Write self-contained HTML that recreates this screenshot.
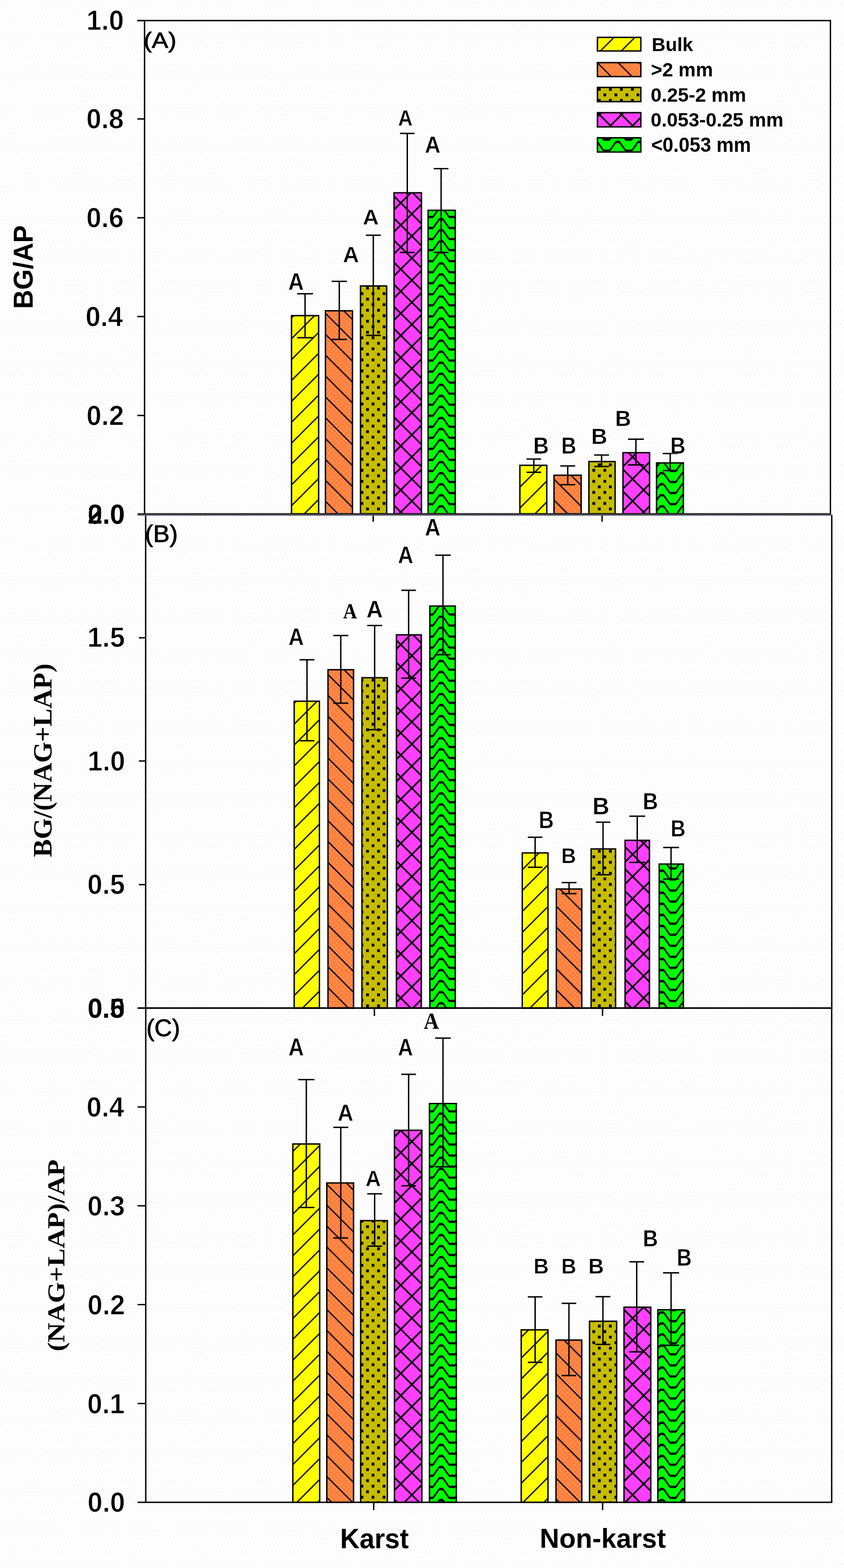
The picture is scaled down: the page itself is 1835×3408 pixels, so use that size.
<!DOCTYPE html><html><head><meta charset="utf-8"><title>Figure</title><style>html,body{margin:0;padding:0;background:#fff;}svg{display:block}</style></head><body>
<svg width="1835" height="3408" viewBox="0 0 1835 3408">
<defs>
<pattern id="YA0" patternUnits="userSpaceOnUse" width="45.37" height="45.37"><rect width="45.37" height="45.37" fill="#ffff00"/><path d="M8.9,-45.37L-127.21,90.74M54.27,-45.37L-81.84,90.74M99.64,-45.37L-36.47,90.74M145.01,-45.37L8.9,90.74" stroke="#000" stroke-width="2.7" fill="none"/></pattern><pattern id="YA1" patternUnits="userSpaceOnUse" width="45.37" height="45.37"><rect width="45.37" height="45.37" fill="#ffff00"/><path d="M11.3,-45.37L-124.81,90.74M56.67,-45.37L-79.44,90.74M102.04,-45.37L-34.07,90.74M147.41,-45.37L11.3,90.74" stroke="#000" stroke-width="2.7" fill="none"/></pattern><pattern id="YB0" patternUnits="userSpaceOnUse" width="45.37" height="45.37"><rect width="45.37" height="45.37" fill="#ffff00"/><path d="M35.75,-45.37L-100.36,90.74M81.12,-45.37L-54.99,90.74M126.49,-45.37L-9.62,90.74M171.86,-45.37L35.75,90.74" stroke="#000" stroke-width="2.7" fill="none"/></pattern><pattern id="YB1" patternUnits="userSpaceOnUse" width="45.37" height="45.37"><rect width="45.37" height="45.37" fill="#ffff00"/><path d="M31.3,-45.37L-104.81,90.74M76.67,-45.37L-59.44,90.74M122.04,-45.37L-14.07,90.74M167.41,-45.37L31.3,90.74" stroke="#000" stroke-width="2.7" fill="none"/></pattern><pattern id="YC0" patternUnits="userSpaceOnUse" width="45.37" height="45.37"><rect width="45.37" height="45.37" fill="#ffff00"/><path d="M8.85,-45.37L-127.26,90.74M54.22,-45.37L-81.89,90.74M99.59,-45.37L-36.52,90.74M144.96,-45.37L8.85,90.74" stroke="#000" stroke-width="2.7" fill="none"/></pattern><pattern id="YC1" patternUnits="userSpaceOnUse" width="45.37" height="45.37"><rect width="45.37" height="45.37" fill="#ffff00"/><path d="M1.7,-45.37L-134.41,90.74M47.07,-45.37L-89.04,90.74M92.44,-45.37L-43.67,90.74M137.81,-45.37L1.7,90.74" stroke="#000" stroke-width="2.7" fill="none"/></pattern><pattern id="YL" patternUnits="userSpaceOnUse" width="45.37" height="45.37"><rect width="45.37" height="45.37" fill="#ffff00"/><path d="M9.8,-45.37L-126.31,90.74M55.17,-45.37L-80.94,90.74M100.54,-45.37L-35.57,90.74M145.91,-45.37L9.8,90.74" stroke="#000" stroke-width="2.7" fill="none"/></pattern><pattern id="OA0" patternUnits="userSpaceOnUse" width="45.37" height="45.37"><rect width="45.37" height="45.37" fill="none"/><path d="M-45.37,-26.5L90.74,109.61M-45.37,-71.87L90.74,64.24M-45.37,-117.24L90.74,18.87M-45.37,-162.61L90.74,-26.5" stroke="#000" stroke-width="2.7" fill="none"/></pattern><pattern id="OA1" patternUnits="userSpaceOnUse" width="45.37" height="45.37"><rect width="45.37" height="45.37" fill="none"/><path d="M-45.37,-26.9L90.74,109.21M-45.37,-72.27L90.74,63.84M-45.37,-117.64L90.74,18.47M-45.37,-163.01L90.74,-26.9" stroke="#000" stroke-width="2.7" fill="none"/></pattern><pattern id="OB0" patternUnits="userSpaceOnUse" width="45.37" height="45.37"><rect width="45.37" height="45.37" fill="none"/><path d="M-45.37,-18.3L90.74,117.81M-45.37,-63.67L90.74,72.44M-45.37,-109.04L90.74,27.07M-45.37,-154.41L90.74,-18.3" stroke="#000" stroke-width="2.7" fill="none"/></pattern><pattern id="OB1" patternUnits="userSpaceOnUse" width="45.37" height="45.37"><rect width="45.37" height="45.37" fill="none"/><path d="M-45.37,-11.1L90.74,125.01M-45.37,-56.47L90.74,79.64M-45.37,-101.84L90.74,34.27M-45.37,-147.21L90.74,-11.1" stroke="#000" stroke-width="2.7" fill="none"/></pattern><pattern id="OC0" patternUnits="userSpaceOnUse" width="45.37" height="45.37"><rect width="45.37" height="45.37" fill="none"/><path d="M-45.37,-42L90.74,94.11M-45.37,-87.37L90.74,48.74M-45.37,-132.74L90.74,3.37M-45.37,-178.11L90.74,-42" stroke="#000" stroke-width="2.7" fill="none"/></pattern><pattern id="OC1" patternUnits="userSpaceOnUse" width="45.37" height="45.37"><rect width="45.37" height="45.37" fill="none"/><path d="M-45.37,-37.7L90.74,98.41M-45.37,-83.07L90.74,53.04M-45.37,-128.44L90.74,7.67M-45.37,-173.81L90.74,-37.7" stroke="#000" stroke-width="2.7" fill="none"/></pattern><pattern id="OL" patternUnits="userSpaceOnUse" width="45.37" height="45.37"><rect width="45.37" height="45.37" fill="none"/><path d="M-45.37,-28.25L90.74,107.86M-45.37,-73.62L90.74,62.49M-45.37,-118.99L90.74,17.12M-45.37,-164.36L90.74,-28.25" stroke="#000" stroke-width="2.7" fill="none"/></pattern><pattern id="Obase" patternUnits="userSpaceOnUse" width="10.8" height="10.8"><rect width="10.8" height="10.8" fill="#ff7f3c"/><rect x="1.2" y="1.2" width="2.7" height="2.7" fill="#f7a46a"/><rect x="6.6" y="6.6" width="2.7" height="2.7" fill="#f7a46a"/></pattern><pattern id="L" patternUnits="userSpaceOnUse" x="7" y="2.2" width="24.0" height="24.0"><rect width="24.0" height="24.0" fill="#c6bc00"/><rect x="-3" y="-3.1" width="6.0" height="6.2" fill="#000"/><rect x="21" y="-3.1" width="6.0" height="6.2" fill="#000"/><rect x="-3" y="20.9" width="6.0" height="6.2" fill="#000"/><rect x="21" y="20.9" width="6.0" height="6.2" fill="#000"/><rect x="9" y="8.9" width="6.0" height="6.2" fill="#000"/></pattern><pattern id="M" patternUnits="userSpaceOnUse" width="48.0" height="48.0"><rect width="48.0" height="48.0" fill="#ff40ff"/><path d="M16.5,-48L-127.5,96M64.5,-48L-79.5,96M112.5,-48L-31.5,96M160.5,-48L16.5,96M-48,-46.3L96,97.7M-48,-94.3L96,49.7M-48,-142.3L96,1.7M-48,-190.3L96,-46.3" stroke="#000" stroke-width="3.6" fill="none"/></pattern><pattern id="G" patternUnits="userSpaceOnUse" x="959" y="20.5" width="48.0" height="24.0"><rect width="48.0" height="24.0" fill="#00ff00"/><path d="M-65.5,-4.8L-52,-24M-44,-24L-30.5,-4.8M-17.5,-4.8L-4,-24M4,-24L17.5,-4.8M30.5,-4.8L44,-24M52,-24L65.5,-4.8M-65.5,19.2L-52,0M-44,0L-30.5,19.2M-17.5,19.2L-4,0M4,0L17.5,19.2M30.5,19.2L44,0M52,0L65.5,19.2M-65.5,43.2L-52,24M-44,24L-30.5,43.2M-17.5,43.2L-4,24M4,24L17.5,43.2M30.5,43.2L44,24M52,24L65.5,43.2" stroke="#000" stroke-width="3.6" fill="none"/><path d="M-72,-4.8H-65M-52.5,-24H-43.5M-31,-4.8H-24M-24,-4.8H-17M-4.5,-24H4.5M17,-4.8H24M24,-4.8H31M43.5,-24H52.5M65,-4.8H72M-72,19.2H-65M-52.5,0H-43.5M-31,19.2H-24M-24,19.2H-17M-4.5,0H4.5M17,19.2H24M24,19.2H31M43.5,0H52.5M65,19.2H72M-72,43.2H-65M-52.5,24H-43.5M-31,43.2H-24M-24,43.2H-17M-4.5,24H4.5M17,43.2H24M24,43.2H31M43.5,24H52.5M65,43.2H72" stroke="#000" stroke-width="4.8" fill="none"/></pattern><pattern id="bgd" patternUnits="userSpaceOnUse" width="8" height="16.2"><rect width="8" height="16.2" fill="#fff"/><rect x="-1.3" y="-1.3" width="2.6" height="2.6" fill="#f3f3f3"/><rect x="6.7" y="-1.3" width="2.6" height="2.6" fill="#f3f3f3"/><rect x="-1.3" y="14.9" width="2.6" height="2.6" fill="#f3f3f3"/><rect x="6.7" y="14.9" width="2.6" height="2.6" fill="#f3f3f3"/><rect x="1.4" y="4.1" width="2.6" height="2.6" fill="#f3f3f3"/><rect x="4.1" y="9.5" width="2.6" height="2.6" fill="#f3f3f3"/></pattern>
<filter id="er1" x="-5%" y="-5%" width="110%" height="110%"><feMorphology operator="erode" radius="1"/></filter><filter id="er05" x="-5%" y="-5%" width="110%" height="110%"><feMorphology operator="erode" radius="0.5"/></filter>
</defs>
<rect width="1835" height="3408" fill="url(#bgd)"/>
<rect x="633.8" y="686" width="59" height="430.55" fill="url(#YA0)" stroke="#000" stroke-width="3"/><rect x="707.6" y="675.5" width="58.7" height="441.05" fill="url(#Obase)"/><rect x="707.6" y="675.5" width="58.7" height="441.05" fill="url(#OA0)" stroke="#000" stroke-width="3"/><rect x="783.8" y="621.5" width="56.9" height="495.05" fill="url(#L)" stroke="#000" stroke-width="3"/><rect x="856.7" y="419" width="59.6" height="697.55" fill="url(#M)" stroke="#000" stroke-width="3"/><rect x="930.8" y="457.1" width="59" height="659.45" fill="url(#G)" stroke="#000" stroke-width="3"/><rect x="1130.3" y="1011.3" width="58.5" height="105.25" fill="url(#YA1)" stroke="#000" stroke-width="3"/><rect x="1204.5" y="1032.9" width="59" height="83.65" fill="url(#Obase)"/><rect x="1204.5" y="1032.9" width="59" height="83.65" fill="url(#OA1)" stroke="#000" stroke-width="3"/><rect x="1280.3" y="1003.2" width="57" height="113.35" fill="url(#L)" stroke="#000" stroke-width="3"/><rect x="1354.4" y="983.9" width="57.9" height="132.65" fill="url(#M)" stroke="#000" stroke-width="3"/><rect x="1427.4" y="1006.1" width="58.4" height="110.45" fill="url(#G)" stroke="#000" stroke-width="3"/><path d="M663.25,638.5V733.9M646,638.5H680.5M646,733.9H680.5" stroke="#000" stroke-width="3" fill="none"/><path d="M737.65,611.5V737.7M721,611.5H754.3M721,737.7H754.3" stroke="#000" stroke-width="3" fill="none"/><path d="M811.65,511.3V729M795.5,511.3H827.8M795.5,729H827.8" stroke="#000" stroke-width="3" fill="none"/><path d="M885.5,290.1V548.8M869.6,290.1H901.4M869.6,548.8H901.4" stroke="#000" stroke-width="3" fill="none"/><path d="M959.05,366.5V548.8M943.2,366.5H974.9M943.2,548.8H974.9" stroke="#000" stroke-width="3" fill="none"/><path d="M1160.55,997.7V1026.5M1144.7,997.7H1176.4M1144.7,1026.5H1176.4" stroke="#000" stroke-width="3" fill="none"/><path d="M1234.35,1012.7V1053.6M1218.2,1012.7H1250.5M1218.2,1053.6H1250.5" stroke="#000" stroke-width="3" fill="none"/><path d="M1307.95,989V1014.1M1291.8,989H1324.1M1291.8,1014.1H1324.1" stroke="#000" stroke-width="3" fill="none"/><path d="M1382.6,954.4V1010.4M1365.3,954.4H1399.9M1365.3,1010.4H1399.9" stroke="#000" stroke-width="3" fill="none"/><path d="M1457.2,985.8V1022.8M1440.9,985.8H1473.5M1440.9,1022.8H1473.5" stroke="#000" stroke-width="3" fill="none"/>
<rect x="639.6" y="1524.1" width="54.9" height="667" fill="url(#YB0)" stroke="#000" stroke-width="3"/><rect x="713.1" y="1455.6" width="55.6" height="735.5" fill="url(#Obase)"/><rect x="713.1" y="1455.6" width="55.6" height="735.5" fill="url(#OB0)" stroke="#000" stroke-width="3"/><rect x="786.9" y="1473" width="55.3" height="718.1" fill="url(#L)" stroke="#000" stroke-width="3"/><rect x="861.9" y="1379.8" width="54.1" height="811.3" fill="url(#M)" stroke="#000" stroke-width="3"/><rect x="934.6" y="1317.2" width="55.2" height="873.9" fill="url(#G)" stroke="#000" stroke-width="3"/><rect x="1135.5" y="1853.8" width="55.9" height="337.3" fill="url(#YB1)" stroke="#000" stroke-width="3"/><rect x="1209.6" y="1932.2" width="55.3" height="258.9" fill="url(#Obase)"/><rect x="1209.6" y="1932.2" width="55.3" height="258.9" fill="url(#OB1)" stroke="#000" stroke-width="3"/><rect x="1285.2" y="1845.1" width="53.2" height="346" fill="url(#L)" stroke="#000" stroke-width="3"/><rect x="1359" y="1826.4" width="53" height="364.7" fill="url(#M)" stroke="#000" stroke-width="3"/><rect x="1433.2" y="1878" width="52.6" height="313.1" fill="url(#G)" stroke="#000" stroke-width="3"/><path d="M667.45,1434V1610M651.3,1434H683.6M651.3,1610H683.6" stroke="#000" stroke-width="3" fill="none"/><path d="M740.9,1381.2V1528.3M724.6,1381.2H757.2M724.6,1528.3H757.2" stroke="#000" stroke-width="3" fill="none"/><path d="M814.55,1359.6V1586M798.4,1359.6H830.7M798.4,1586H830.7" stroke="#000" stroke-width="3" fill="none"/><path d="M888.4,1283.1V1474M872.5,1283.1H904.3M872.5,1474H904.3" stroke="#000" stroke-width="3" fill="none"/><path d="M963.1,1206.7V1423M946.1,1206.7H980.1M946.1,1423H980.1" stroke="#000" stroke-width="3" fill="none"/><path d="M1163.45,1819.7V1885.1M1147.6,1819.7H1179.3M1147.6,1885.1H1179.3" stroke="#000" stroke-width="3" fill="none"/><path d="M1237.25,1918.3V1942.2M1221.1,1918.3H1253.4M1221.1,1942.2H1253.4" stroke="#000" stroke-width="3" fill="none"/><path d="M1311.1,1787.1V1901.3M1295.2,1787.1H1327M1295.2,1901.3H1327" stroke="#000" stroke-width="3" fill="none"/><path d="M1385.5,1774.1V1874.5M1368.2,1774.1H1402.8M1368.2,1874.5H1402.8" stroke="#000" stroke-width="3" fill="none"/><path d="M1459,1841.9V1910.5M1441.7,1841.9H1476.3M1441.7,1910.5H1476.3" stroke="#000" stroke-width="3" fill="none"/>
<rect x="636.7" y="2486.4" width="58.4" height="778.9" fill="url(#YC0)" stroke="#000" stroke-width="3"/><rect x="710.5" y="2571.1" width="58.2" height="694.2" fill="url(#Obase)"/><rect x="710.5" y="2571.1" width="58.2" height="694.2" fill="url(#OC0)" stroke="#000" stroke-width="3"/><rect x="784.1" y="2653" width="58.1" height="612.3" fill="url(#L)" stroke="#000" stroke-width="3"/><rect x="857.6" y="2456.7" width="59.6" height="808.6" fill="url(#M)" stroke="#000" stroke-width="3"/><rect x="933.7" y="2398.5" width="58.5" height="866.8" fill="url(#G)" stroke="#000" stroke-width="3"/><rect x="1133.2" y="2890.4" width="58.2" height="374.9" fill="url(#YC1)" stroke="#000" stroke-width="3"/><rect x="1208.8" y="2912.6" width="56.1" height="352.7" fill="url(#Obase)"/><rect x="1208.8" y="2912.6" width="56.1" height="352.7" fill="url(#OC1)" stroke="#000" stroke-width="3"/><rect x="1281.7" y="2871.7" width="59" height="393.6" fill="url(#L)" stroke="#000" stroke-width="3"/><rect x="1356.7" y="2841.1" width="58.2" height="424.2" fill="url(#M)" stroke="#000" stroke-width="3"/><rect x="1430.3" y="2846.7" width="58.4" height="418.6" fill="url(#G)" stroke="#000" stroke-width="3"/><path d="M666,2346.5V2624.4M648.4,2346.5H683.6M648.4,2624.4H683.6" stroke="#000" stroke-width="3" fill="none"/><path d="M740.9,2450.3V2690.7M724.6,2450.3H757.2M724.6,2690.7H757.2" stroke="#000" stroke-width="3" fill="none"/><path d="M814.55,2594.7V2708.6M798.4,2594.7H830.7M798.4,2708.6H830.7" stroke="#000" stroke-width="3" fill="none"/><path d="M888.4,2335V2577.3M872.5,2335H904.3M872.5,2577.3H904.3" stroke="#000" stroke-width="3" fill="none"/><path d="M963.1,2256.2V2536M946.1,2256.2H980.1M946.1,2536H980.1" stroke="#000" stroke-width="3" fill="none"/><path d="M1163.45,2818.8V2961M1147.6,2818.8H1179.3M1147.6,2961H1179.3" stroke="#000" stroke-width="3" fill="none"/><path d="M1236.95,2832.7V2989.8M1221.1,2832.7H1252.8M1221.1,2989.8H1252.8" stroke="#000" stroke-width="3" fill="none"/><path d="M1310.85,2818.2V2922.1M1294.7,2818.2H1327M1294.7,2922.1H1327" stroke="#000" stroke-width="3" fill="none"/><path d="M1384.35,2742.5V2938.2M1368.2,2742.5H1400.5M1368.2,2938.2H1400.5" stroke="#000" stroke-width="3" fill="none"/><path d="M1459.05,2766.5V2924.1M1441.6,2766.5H1476.5M1441.6,2924.1H1476.5" stroke="#000" stroke-width="3" fill="none"/>
<path d="M314.3,44.7V1116.55M1805.5,44.7V1116.55" stroke="#000" stroke-width="3" fill="none"/><path d="M298.5,44.7H1807" stroke="#000" stroke-width="3" fill="none"/><path d="M299.1,1116.55H1807" stroke="#2c2c26" stroke-width="2.7" fill="none"/><path d="M298.5,44.7H314.3M298.5,258.4H314.3M298.5,473.2H314.3M298.5,688H314.3M298.5,903H314.3M811.4,1118V1134M1309.1,1118V1134" stroke="#000" stroke-width="3" fill="none"/>
<path d="M316.7,1119.35V2191.1M1808.4,1119.35V2191.1" stroke="#000" stroke-width="3" fill="none"/><path d="M299.1,1119.35H1809.9" stroke="#54546a" stroke-width="2.9" fill="none"/><path d="M299.1,2191.1H1809.9" stroke="#000" stroke-width="3" fill="none"/><path d="M302,1386.2H316.7M302,1654.1H316.7M302,1922.8H316.7M814,2191V2208M1310,2191V2208" stroke="#000" stroke-width="3" fill="none"/>
<path d="M316.9,2191.1V3265.3M1808.2,2191.1V3265.3" stroke="#000" stroke-width="3" fill="none"/><path d="M299.1,2191.1H1809.7" stroke="#000" stroke-width="3" fill="none"/><path d="M299.1,3265.3H1809.7" stroke="#000" stroke-width="3" fill="none"/><path d="M299.1,2405.9H316.9M299.1,2620.8H316.9M299.1,2835.6H316.9M299.1,3050.5H316.9M812.5,3265V3282M1310.2,3265V3282" stroke="#000" stroke-width="3" fill="none"/>
<text transform="matrix(0.234 0 0 0.255 626.632 629.5)" font-family="'Liberation Sans', sans-serif" font-weight="bold" font-size="200" fill="#000" stroke="#fff" stroke-width="2.458" stroke-linejoin="round">A</text>
<text transform="matrix(0.243 0 0 0.245 745.587 569.7)" font-family="'Liberation Sans', sans-serif" font-weight="bold" font-size="200" fill="#000" stroke="#fff" stroke-width="2.462" stroke-linejoin="round">A</text>
<text transform="matrix(0.241 0 0 0.234 788.795 487.9)" font-family="'Liberation Sans', sans-serif" font-weight="bold" font-size="200" fill="#000" stroke="#fff" stroke-width="2.526" stroke-linejoin="round">A</text>
<text transform="matrix(0.219 0 0 0.238 865.403 272.8)" font-family="'Liberation Sans', sans-serif" font-weight="bold" font-size="200" fill="#000" stroke="#fff" stroke-width="2.623" stroke-linejoin="round">A</text>
<text transform="matrix(0.235 0 0 0.251 923.825 332.2)" font-family="'Liberation Sans', sans-serif" font-weight="bold" font-size="200" fill="#000" stroke="#fff" stroke-width="2.471" stroke-linejoin="round">A</text>
<text transform="matrix(0.234 0 0 0.251 1159.563 986.4)" font-family="'Liberation Sans', sans-serif" font-weight="bold" font-size="200" fill="#000" stroke="#fff" stroke-width="2.479" stroke-linejoin="round">B</text>
<text transform="matrix(0.227 0 0 0.251 1220.148 986.4)" font-family="'Liberation Sans', sans-serif" font-weight="bold" font-size="200" fill="#000" stroke="#fff" stroke-width="2.515" stroke-linejoin="round">B</text>
<text transform="matrix(0.241 0 0 0.238 1285.467 965.4)" font-family="'Liberation Sans', sans-serif" font-weight="bold" font-size="200" fill="#000" stroke="#fff" stroke-width="2.503" stroke-linejoin="round">B</text>
<text transform="matrix(0.241 0 0 0.244 1337.367 926.4)" font-family="'Liberation Sans', sans-serif" font-weight="bold" font-size="200" fill="#000" stroke="#fff" stroke-width="2.473" stroke-linejoin="round">B</text>
<text transform="matrix(0.23 0 0 0.251 1457.216 986.4)" font-family="'Liberation Sans', sans-serif" font-weight="bold" font-size="200" fill="#000" stroke="#fff" stroke-width="2.501" stroke-linejoin="round">B</text>
<text transform="matrix(0.231 0 0 0.255 627.347 1401.7)" font-family="'Liberation Sans', sans-serif" font-weight="bold" font-size="200" fill="#000" stroke="#fff" stroke-width="2.474" stroke-linejoin="round">A</text>
<text transform="matrix(0.209 0 0 0.231 746.083 1343.931)" font-family="'Liberation Serif', serif" font-weight="bold" font-size="200" fill="#000">A</text>
<text transform="matrix(0.246 0 0 0.255 796.872 1342)" font-family="'Liberation Sans', sans-serif" font-weight="bold" font-size="200" fill="#000" stroke="#fff" stroke-width="2.398" stroke-linejoin="round">A</text>
<text transform="matrix(0.23 0 0 0.255 865.351 1224.3)" font-family="'Liberation Sans', sans-serif" font-weight="bold" font-size="200" fill="#000" stroke="#fff" stroke-width="2.478" stroke-linejoin="round">A</text>
<text transform="matrix(0.235 0 0 0.255 923.825 1163.7)" font-family="'Liberation Sans', sans-serif" font-weight="bold" font-size="200" fill="#000" stroke="#fff" stroke-width="2.45" stroke-linejoin="round">A</text>
<text transform="matrix(0.227 0 0 0.255 1171.148 1799.8)" font-family="'Liberation Sans', sans-serif" font-weight="bold" font-size="200" fill="#000" stroke="#fff" stroke-width="2.493" stroke-linejoin="round">B</text>
<text transform="matrix(0.223 0 0 0.23 1220.202 1875.6)" font-family="'Liberation Sans', sans-serif" font-weight="bold" font-size="200" fill="#000" stroke="#fff" stroke-width="2.651" stroke-linejoin="round">B</text>
<text transform="matrix(0.253 0 0 0.259 1288.207 1770.1)" font-family="'Liberation Sans', sans-serif" font-weight="bold" font-size="200" fill="#000" stroke="#fff" stroke-width="2.341" stroke-linejoin="round">B</text>
<text transform="matrix(0.23 0 0 0.251 1397.516 1758.8)" font-family="'Liberation Sans', sans-serif" font-weight="bold" font-size="200" fill="#000" stroke="#fff" stroke-width="2.501" stroke-linejoin="round">B</text>
<text transform="matrix(0.225 0 0 0.247 1457.88 1818)" font-family="'Liberation Sans', sans-serif" font-weight="bold" font-size="200" fill="#000" stroke="#fff" stroke-width="2.547" stroke-linejoin="round">B</text>
<text transform="matrix(0.231 0 0 0.265 627.347 2294)" font-family="'Liberation Sans', sans-serif" font-weight="bold" font-size="200" fill="#000" stroke="#fff" stroke-width="2.426" stroke-linejoin="round">A</text>
<text transform="matrix(0.237 0 0 0.246 734.013 2436.2)" font-family="'Liberation Sans', sans-serif" font-weight="bold" font-size="200" fill="#000" stroke="#fff" stroke-width="2.481" stroke-linejoin="round">A</text>
<text transform="matrix(0.231 0 0 0.241 794.647 2577.5)" font-family="'Liberation Sans', sans-serif" font-weight="bold" font-size="200" fill="#000" stroke="#fff" stroke-width="2.547" stroke-linejoin="round">A</text>
<text transform="matrix(0.226 0 0 0.256 865.369 2293.5)" font-family="'Liberation Sans', sans-serif" font-weight="bold" font-size="200" fill="#000" stroke="#fff" stroke-width="2.495" stroke-linejoin="round">A</text>
<text transform="matrix(0.23 0 0 0.248 921.139 2236.248)" font-family="'Liberation Serif', serif" font-weight="bold" font-size="200" fill="#000">A</text>
<text transform="matrix(0.23 0 0 0.235 1160.116 2768.1)" font-family="'Liberation Sans', sans-serif" font-weight="bold" font-size="200" fill="#000" stroke="#fff" stroke-width="2.585" stroke-linejoin="round">B</text>
<text transform="matrix(0.227 0 0 0.235 1220.148 2768.1)" font-family="'Liberation Sans', sans-serif" font-weight="bold" font-size="200" fill="#000" stroke="#fff" stroke-width="2.599" stroke-linejoin="round">B</text>
<text transform="matrix(0.236 0 0 0.235 1278.931 2768.1)" font-family="'Liberation Sans', sans-serif" font-weight="bold" font-size="200" fill="#000" stroke="#fff" stroke-width="2.549" stroke-linejoin="round">B</text>
<text transform="matrix(0.227 0 0 0.249 1397.648 2709.3)" font-family="'Liberation Sans', sans-serif" font-weight="bold" font-size="200" fill="#000" stroke="#fff" stroke-width="2.526" stroke-linejoin="round">B</text>
<text transform="matrix(0.226 0 0 0.256 1471.259 2751.3)" font-family="'Liberation Sans', sans-serif" font-weight="bold" font-size="200" fill="#000" stroke="#fff" stroke-width="2.494" stroke-linejoin="round">B</text>
<text transform="matrix(0.293 0 0 0.305 188.015 64.74)" font-family="'Liberation Sans', sans-serif" font-weight="bold" font-size="200" fill="#000" stroke="#fff" stroke-width="3.346" stroke-linejoin="round">1.0</text><text transform="matrix(0.293 0 0 0.305 187.658 278.94)" font-family="'Liberation Sans', sans-serif" font-weight="bold" font-size="200" fill="#000" stroke="#fff" stroke-width="3.347" stroke-linejoin="round">0.8</text><text transform="matrix(0.293 0 0 0.305 187.746 494.04)" font-family="'Liberation Sans', sans-serif" font-weight="bold" font-size="200" fill="#000" stroke="#fff" stroke-width="3.347" stroke-linejoin="round">0.6</text><text transform="matrix(0.293 0 0 0.305 185.913 709.34)" font-family="'Liberation Sans', sans-serif" font-weight="bold" font-size="200" fill="#000" stroke="#fff" stroke-width="3.347" stroke-linejoin="round">0.4</text><text transform="matrix(0.293 0 0 0.305 188.035 924.04)" font-family="'Liberation Sans', sans-serif" font-weight="bold" font-size="200" fill="#000" stroke="#fff" stroke-width="3.347" stroke-linejoin="round">0.2</text><text transform="matrix(0.293 0 0 0.305 190.335 1138.94)" font-family="'Liberation Sans', sans-serif" font-weight="bold" font-size="200" fill="#000" stroke="#fff" stroke-width="3.347" stroke-linejoin="round">0.0</text><text transform="matrix(0.289 0 0 0.298 190.866 1138.454)" font-family="'Liberation Sans', sans-serif" font-weight="bold" font-size="200" fill="#000">2.0</text><text transform="matrix(0.293 0 0 0.305 190.038 1405.942)" font-family="'Liberation Sans', sans-serif" font-weight="bold" font-size="200" fill="#000" stroke="#fff" stroke-width="3.346" stroke-linejoin="round">1.5</text><text transform="matrix(0.293 0 0 0.305 190.615 1675.14)" font-family="'Liberation Sans', sans-serif" font-weight="bold" font-size="200" fill="#000" stroke="#fff" stroke-width="3.346" stroke-linejoin="round">1.0</text><text transform="matrix(0.293 0 0 0.305 190.058 1943.44)" font-family="'Liberation Sans', sans-serif" font-weight="bold" font-size="200" fill="#000" stroke="#fff" stroke-width="3.347" stroke-linejoin="round">0.5</text><text transform="matrix(0.293 0 0 0.305 190.635 2212.34)" font-family="'Liberation Sans', sans-serif" font-weight="bold" font-size="200" fill="#000" stroke="#fff" stroke-width="3.347" stroke-linejoin="round">0.0</text><text transform="matrix(0.289 0 0 0.298 190.388 2211.854)" font-family="'Liberation Sans', sans-serif" font-weight="bold" font-size="200" fill="#000">0.5</text><text transform="matrix(0.293 0 0 0.305 188.313 2426.94)" font-family="'Liberation Sans', sans-serif" font-weight="bold" font-size="200" fill="#000" stroke="#fff" stroke-width="3.347" stroke-linejoin="round">0.4</text><text transform="matrix(0.293 0 0 0.305 190.046 2641.84)" font-family="'Liberation Sans', sans-serif" font-weight="bold" font-size="200" fill="#000" stroke="#fff" stroke-width="3.347" stroke-linejoin="round">0.3</text><text transform="matrix(0.293 0 0 0.305 190.335 2856.64)" font-family="'Liberation Sans', sans-serif" font-weight="bold" font-size="200" fill="#000" stroke="#fff" stroke-width="3.347" stroke-linejoin="round">0.2</text><text transform="matrix(0.293 0 0 0.305 189.758 3071.54)" font-family="'Liberation Sans', sans-serif" font-weight="bold" font-size="200" fill="#000" stroke="#fff" stroke-width="3.347" stroke-linejoin="round">0.1</text><text transform="matrix(0.293 0 0 0.305 190.335 3285.64)" font-family="'Liberation Sans', sans-serif" font-weight="bold" font-size="200" fill="#000" stroke="#fff" stroke-width="3.347" stroke-linejoin="round">0.0</text>
<text transform="matrix(0.268 0 0 0.243 312.132 103.653)" font-family="'Liberation Sans', sans-serif" font-weight="normal" font-size="200" fill="#000" stroke="#000" stroke-width="4.311" stroke-linejoin="round">(A)</text>
<text transform="matrix(0.269 0 0 0.255 315.017 1177.659)" font-family="'Liberation Sans', sans-serif" font-weight="normal" font-size="200" fill="#000" stroke="#000" stroke-width="4.2" stroke-linejoin="round">(B)</text>
<text transform="matrix(0.264 0 0 0.258 318.286 2252.124)" font-family="'Liberation Sans', sans-serif" font-weight="normal" font-size="200" fill="#000" stroke="#000" stroke-width="4.22" stroke-linejoin="round">(C)</text>
<text transform="matrix(0.292 0 0 0.309 739.502 3364.581)" font-family="'Liberation Sans', sans-serif" font-weight="bold" font-size="200" fill="#000">Karst</text>
<text transform="matrix(0.294 0 0 0.292 1173.476 3364.416)" font-family="'Liberation Sans', sans-serif" font-weight="bold" font-size="200" fill="#000">Non-karst</text>
<text transform="matrix(0 -0.287 0.292 0 71.332 671.137)" font-family="'Liberation Sans', sans-serif" font-weight="bold" font-size="200" fill="#000">BG/AP</text>
<text transform="matrix(0 -0.293 0.281 0 111.717 1863.079)" font-family="'Liberation Serif', serif" font-weight="bold" font-size="200" fill="#000">BG/(NAG+LAP)</text>
<text transform="matrix(0 -0.295 0.268 0 140.053 2937.051)" font-family="'Liberation Serif', serif" font-weight="bold" font-size="200" fill="#000">(NAG+LAP)/AP</text>
<text transform="matrix(0.207 0 0 0.205 1417.004 111.189)" font-family="'Liberation Sans', sans-serif" font-weight="bold" font-size="200" fill="#000">Bulk</text>
<text transform="matrix(0.211 0 0 0.216 1415.308 166.1)" font-family="'Liberation Sans', sans-serif" font-weight="bold" font-size="200" fill="#000">&gt;2 mm</text>
<text transform="matrix(0.212 0 0 0.213 1414.806 220.673)" font-family="'Liberation Sans', sans-serif" font-weight="bold" font-size="200" fill="#000">0.25-2 mm</text>
<text transform="matrix(0.211 0 0 0.213 1414.811 274.773)" font-family="'Liberation Sans', sans-serif" font-weight="bold" font-size="200" fill="#000">0.053-0.25 mm</text>
<text transform="matrix(0.211 0 0 0.218 1415.913 329.565)" font-family="'Liberation Sans', sans-serif" font-weight="bold" font-size="200" fill="#000">&lt;0.053 mm</text>
<rect x="1298.9" y="81.2" width="94.4" height="29.6" fill="url(#YL)" stroke="#000" stroke-width="3"/><rect x="1298.9" y="136.1" width="94.4" height="30.3" fill="url(#Obase)"/><rect x="1298.9" y="136.1" width="94.4" height="30.3" fill="url(#OL)" stroke="#000" stroke-width="3"/><rect x="1298.9" y="190" width="94.4" height="30.9" fill="url(#L)" stroke="#000" stroke-width="3"/><rect x="1298.9" y="244.9" width="94.4" height="30.9" fill="url(#M)" stroke="#000" stroke-width="3"/><rect x="1298.9" y="299.5" width="94.4" height="30.9" fill="url(#G)" stroke="#000" stroke-width="3"/>
</svg></body></html>
